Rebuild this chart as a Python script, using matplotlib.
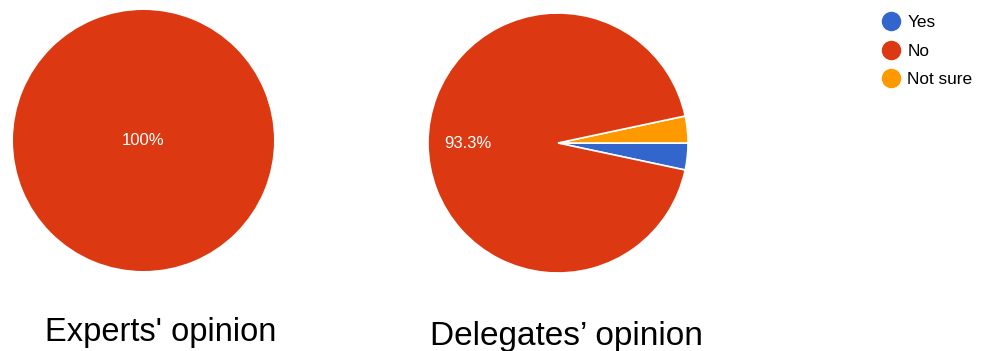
import matplotlib
matplotlib.use("Agg")
import matplotlib.pyplot as plt
from matplotlib.lines import Line2D

plt.rcParams['font.family'] = ['Liberation Sans', 'DejaVu Sans']

# Данные
categories = ['Yes', 'No', 'Not sure']
colors = ['#3366cc', '#dc3912', '#ff9900']
experts = [0, 100, 0]
delegates = [1, 28, 1]
titles = ["Experts' opinion", "Delegates\u2019 opinion"]

W, H = 988, 351
fig = plt.figure(figsize=(W / 100, H / 100), dpi=100)


def pie_axes(cx, cy, r):
    """Оси под пирог по центру и радиусу в пикселях."""
    return fig.add_axes([(cx - r) / W, (H - cy - r) / H, 2 * r / W, 2 * r / H])


def draw_pie(ax, values, edge):
    # порядок отрисовки: Yes, Not sure, No (клинья справа, как в оригинале)
    order = [0, 2, 1]
    vals = [values[i] for i in order if values[i] > 0]
    cols = [colors[i] for i in order if values[i] > 0]
    single = len(vals) == 1
    ax.pie(
        vals, colors=cols, startangle=-12 if not single else 90,
        counterclock=True, radius=1,
        autopct=lambda p: f'{p:.0f}%' if p > 99.9 else (f'{p:.1f}%' if p > 10 else ''),
        pctdistance=0 if single else 0.69,
        wedgeprops=dict(edgecolor='white', linewidth=edge),
        textprops=dict(color='white', fontsize=12))
    ax.set_xlim(-1, 1)
    ax.set_ylim(-1, 1)
    ax.set_aspect('equal')
    ax.axis('off')


ax1 = pie_axes(143.5, 140.5, 130.5)
draw_pie(ax1, experts, 0)
ax2 = pie_axes(558, 143, 130)
draw_pie(ax2, delegates, 1.2)

# Подписи снизу
fig.text(160.5 / W, 1 - 341 / H, titles[0], ha='center', va='baseline', fontsize=23.5)
fig.text(566 / W, 1 - 345 / H, titles[1], ha='center', va='baseline', fontsize=24)

# Легенда
handles = [Line2D([], [], marker='o', linestyle='none', markersize=13,
                  markerfacecolor=c, markeredgecolor=c) for c in colors]
fig.legend(handles, categories, loc='upper left', bbox_to_anchor=(875.6 / W, 1 - 8.5 / H),
           frameon=False, fontsize=12.4, labelspacing=0.76, handletextpad=0.44,
           handlelength=1.0, borderaxespad=0)

fig.savefig('out.png', dpi=100)
